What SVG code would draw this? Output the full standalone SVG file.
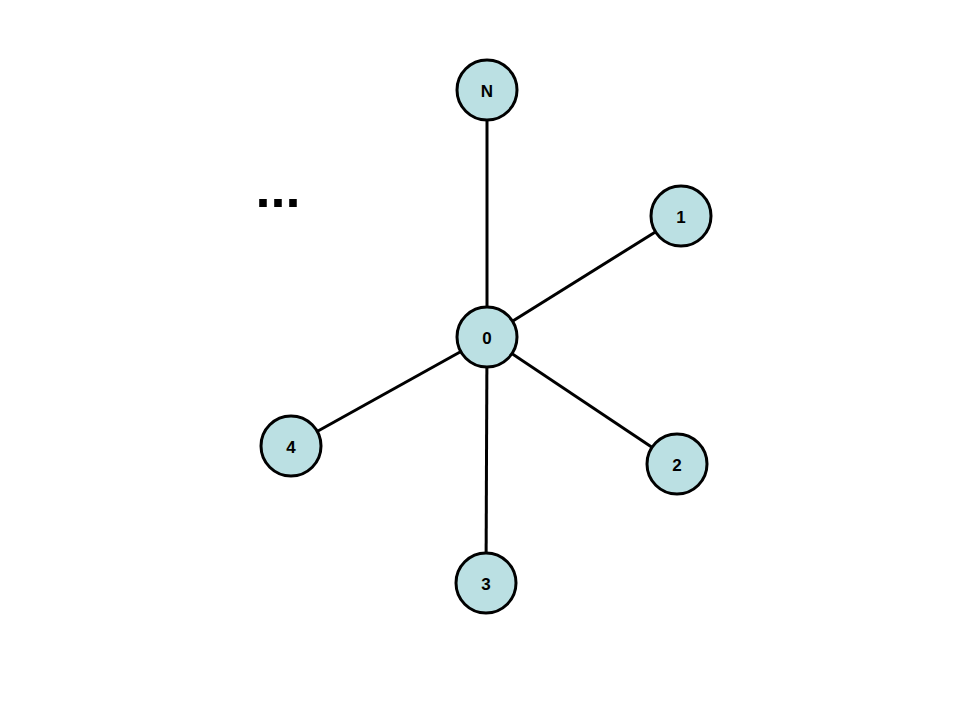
<svg xmlns="http://www.w3.org/2000/svg" width="960" height="720" viewBox="0 0 960 720">
<style>
.edge{stroke:#000;stroke-width:3;fill:none}
.node circle{fill:#BBE0E3;stroke:#000;stroke-width:3}
.node text{font-family:"Liberation Sans",Arial,sans-serif;font-weight:bold;font-size:17px;text-anchor:middle;fill:#000}
</style>
<rect width="960" height="720" fill="#fff"/>
<g id="connectors">
<line class="edge" x1="487" y1="337" x2="487" y2="90"/>
<line class="edge" x1="487" y1="337" x2="681" y2="216"/>
<line class="edge" x1="487" y1="337" x2="677" y2="464"/>
<line class="edge" x1="487" y1="337" x2="486" y2="583"/>
<line class="edge" x1="487" y1="337" x2="291" y2="446"/>
</g>
<g id="node-0" class="node"><circle cx="487" cy="337" r="30"/><text x="487" y="344">0</text></g>
<g id="node-N" class="node"><circle cx="487" cy="90" r="30"/><text x="487" y="97">N</text></g>
<g id="node-1" class="node"><circle cx="681" cy="216" r="30"/><text x="681" y="223">1</text></g>
<g id="node-2" class="node"><circle cx="677" cy="464" r="30"/><text x="677" y="471">2</text></g>
<g id="node-3" class="node"><circle cx="486" cy="583" r="30"/><text x="486" y="590">3</text></g>
<g id="node-4" class="node"><circle cx="291" cy="446" r="30"/><text x="291" y="453">4</text></g>
<text id="ellipsis" x="278" y="207" font-family="Liberation Sans,Arial,sans-serif" font-weight="bold" font-size="54" text-anchor="middle">...</text>
</svg>
